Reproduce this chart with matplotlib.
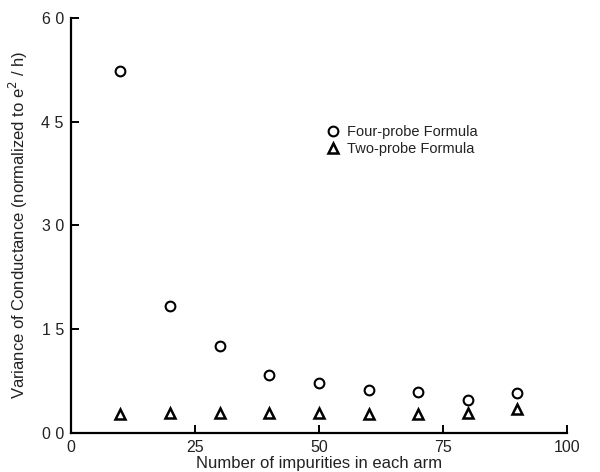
import numpy as np
import matplotlib
matplotlib.use('Agg')
import matplotlib.pyplot as plt

plt.rcParams['font.family'] = ['Liberation Sans', 'DejaVu Sans']

impurities = [10, 20, 30, 40, 50, 60, 70, 80, 90]
four_probe = [5.23, 1.84, 1.25, 0.84, 0.72, 0.62, 0.59, 0.48, 0.58]
two_probe = [0.27, 0.29, 0.29, 0.28, 0.28, 0.27, 0.27, 0.29, 0.35]

xticks = [0, 25, 50, 75, 100]
yticks = [0.0, 1.5, 3.0, 4.5, 6.0]
ytick_labels = ['0 0', '1 5', '3 0', '4 5', '6 0']

ink = '#222222'

fig = plt.figure(figsize=(6, 4.72), dpi=100)
ax = fig.add_axes([0.118, 0.083, 0.827, 0.879])

ax.plot(impurities, four_probe, linestyle='none', marker='o', markersize=7,
        markerfacecolor='white', markeredgecolor='black', markeredgewidth=1.5,
        label='Four-probe Formula')
ax.plot(impurities, two_probe, linestyle='none', marker='^', markersize=6.5,
        markerfacecolor='white', markeredgecolor='black', markeredgewidth=1.8,
        label='Two-probe Formula')

ax.set_xlim(0, 100)
ax.set_ylim(0, 6)
ax.set_xticks(xticks)
ax.set_yticks(yticks)
ax.set_yticklabels(ytick_labels)

for side in ['top', 'right']:
    ax.spines[side].set_visible(False)
for side in ['left', 'bottom']:
    ax.spines[side].set_linewidth(1.6)
    ax.spines[side].set_color('black')

ax.tick_params(direction='in', length=6, width=1.4, colors='black',
               labelcolor=ink, labelsize=11.5, pad=5)

ax.set_xlabel('Number of impurities in each arm', fontsize=12, color=ink, labelpad=1)
ax.set_ylabel('Variance of Conductance (normalized to e$^2$ / h)', fontsize=12,
              color=ink, labelpad=8)

ax.legend(loc='upper left', bbox_to_anchor=(0.5, 0.76), frameon=False,
          fontsize=10.5, handletextpad=0.4, labelspacing=0.2, borderpad=0,
          handlelength=1.0, labelcolor=ink)

fig.savefig('out.png', dpi=100)
